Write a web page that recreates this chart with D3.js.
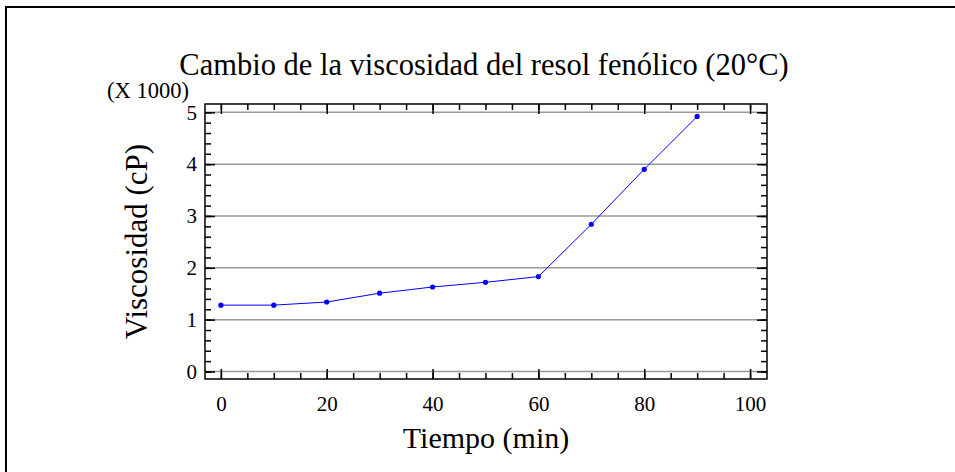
<!DOCTYPE html>
<html>
<head>
<meta charset="utf-8">
<script src="https://cdn.jsdelivr.net/npm/d3@7"></script>
<style>
  body { margin: 0; background: #fff; }
  svg { display: block; font-family: "Liberation Serif", "Times New Roman", serif; }
</style>
</head>
<body>
<script>
// datos
var tiempo = [0, 10, 20, 30, 40, 50, 60, 70, 80, 90];
var viscosidad = [1.28, 1.28, 1.34, 1.51, 1.63, 1.72, 1.83, 2.84, 3.90, 4.92]; // x 1000 cP
var xTicks = [0, 20, 40, 60, 80, 100];
var yTicks = [0, 1, 2, 3, 4, 5];

var W = 955, H = 472;
var margin = {top: 104, right: 188, bottom: 93, left: 205},
    width = W - margin.left - margin.right,
    height = H - margin.top - margin.bottom;

var svg = d3.select("body").append("svg")
    .attr("width", W)
    .attr("height", H);

// marco exterior
svg.append("path")
    .attr("d", "M6,472 V7 H955")
    .attr("fill", "none")
    .attr("stroke", "#000")
    .attr("stroke-width", 2);

var g = svg.append("g")
    .attr("transform", `translate(${margin.left},${margin.top})`);

var x = d3.scaleLinear().domain([-3, 103.2]).range([0, width]);
var y = d3.scaleLinear().domain([-0.145, 5.16]).range([height, 0]);

// rejilla
g.selectAll(".grid")
    .data(yTicks)
    .enter().append("line")
    .attr("x1", 0).attr("x2", width)
    .attr("y1", d => y(d)).attr("y2", d => y(d))
    .attr("stroke", "#999")
    .attr("stroke-width", 1.5);

// ejes (ticks hacia dentro)
var xMinor = d3.range(0, 101, 5);
var yMinor = d3.range(0, 5.01, 0.2);

function styleAxis(sel) {
    sel.select(".domain").remove();
    sel.selectAll(".tick line").attr("stroke", "#000").attr("stroke-width", 1.5);
}

g.append("g").attr("transform", `translate(0,${height})`)
    .call(d3.axisBottom(x).tickValues(xMinor).tickSize(-6).tickFormat(""))
    .call(styleAxis);
g.append("g").attr("transform", `translate(0,${height})`)
    .call(d3.axisBottom(x).tickValues(xTicks).tickSize(-10).tickPadding(17)
        .tickFormat(d3.format("d")))
    .call(styleAxis)
    .call(s => s.selectAll("text").attr("font-size", 21).attr("font-family", "Liberation Serif").attr("fill", "#000"));

g.append("g")
    .call(d3.axisTop(x).tickValues(xMinor).tickSize(-6).tickFormat(""))
    .call(styleAxis);
g.append("g")
    .call(d3.axisTop(x).tickValues(xTicks).tickSize(-10).tickFormat(""))
    .call(styleAxis);

g.append("g")
    .call(d3.axisLeft(y).tickValues(yMinor).tickSize(-6).tickFormat(""))
    .call(styleAxis);
g.append("g")
    .call(d3.axisLeft(y).tickValues(yTicks).tickSize(-10).tickPadding(8)
        .tickFormat(d3.format("d")))
    .call(styleAxis)
    .call(s => s.selectAll("text").attr("font-size", 21).attr("font-family", "Liberation Serif").attr("fill", "#000"));

g.append("g").attr("transform", `translate(${width},0)`)
    .call(d3.axisRight(y).tickValues(yMinor).tickSize(-6).tickFormat(""))
    .call(styleAxis);
g.append("g").attr("transform", `translate(${width},0)`)
    .call(d3.axisRight(y).tickValues(yTicks).tickSize(-10).tickFormat(""))
    .call(styleAxis);

// caja del gráfico
g.append("rect")
    .attr("width", width).attr("height", height)
    .attr("fill", "none")
    .attr("stroke", "#000")
    .attr("stroke-width", 1.5);

// serie
var puntos = tiempo.map((t, i) => ({t: t, v: viscosidad[i]}));

g.append("path")
    .datum(puntos)
    .attr("fill", "none")
    .attr("stroke", "#0000ff")
    .attr("stroke-width", 1)
    .attr("d", d3.line().x(d => x(d.t)).y(d => y(d.v)));

g.selectAll(".pt")
    .data(puntos)
    .enter().append("circle")
    .attr("cx", d => x(d.t))
    .attr("cy", d => y(d.v))
    .attr("r", 2.6)
    .attr("fill", "#0000ff");

// textos
svg.append("text")
    .attr("x", 484).attr("y", 75)
    .attr("text-anchor", "middle")
    .attr("font-size", 30.5)
    .text("Cambio de la viscosidad del resol fenólico (20°C)");

svg.append("text")
    .attr("x", 148).attr("y", 98)
    .attr("text-anchor", "middle")
    .attr("font-size", 22.5)
    .text("(X 1000)");

svg.append("text")
    .attr("x", margin.left + width / 2).attr("y", 448)
    .attr("text-anchor", "middle")
    .attr("font-size", 30)
    .text("Tiempo (min)");

svg.append("text")
    .attr("transform", `translate(147,${margin.top + height / 2}) rotate(-90)`)
    .attr("text-anchor", "middle")
    .attr("font-size", 31)
    .text("Viscosidad (cP)");
</script>
</body>
</html>
